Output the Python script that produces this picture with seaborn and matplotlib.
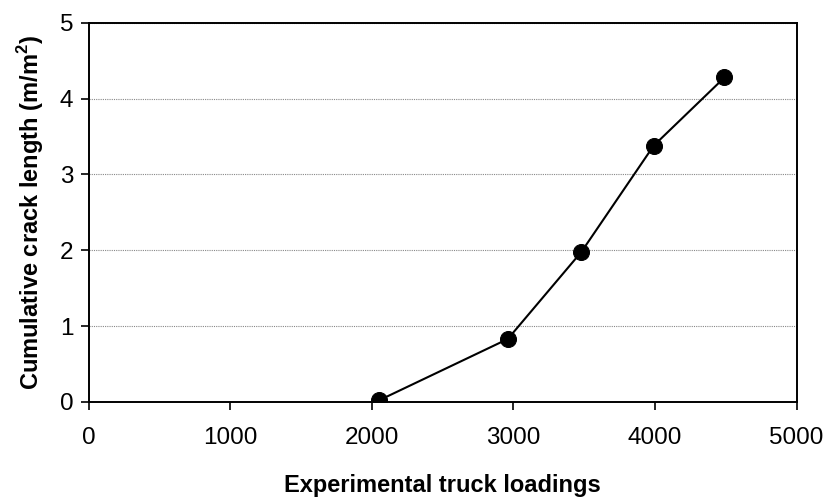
import pandas as pd
import matplotlib
matplotlib.use('Agg')
import matplotlib.pyplot as plt
import seaborn as sns

# Data
truck_loadings = [2050, 2960, 3480, 3990, 4490]
crack_length = [0.02, 0.83, 1.98, 3.38, 4.28]


def plot_crack_growth():
    df = pd.DataFrame({'loadings': truck_loadings, 'crack': crack_length})

    sns.set_style('white')
    plt.rcParams['font.family'] = ['Liberation Sans', 'DejaVu Sans']
    plt.rcParams['text.color'] = 'black'
    plt.rcParams['axes.labelcolor'] = 'black'

    fig = plt.figure(figsize=(8.29, 4.98), dpi=100)
    ax = fig.add_axes([0.107, 0.193, 0.854, 0.761])

    sns.lineplot(x='loadings', y='crack', data=df, ax=ax, color='black',
                 linewidth=1.5, marker='o', markersize=11.5,
                 markeredgecolor='black', markerfacecolor='black')

    ax.set_xlim(0, 5000)
    ax.set_ylim(0, 5)
    ax.set_xticks(range(0, 5001, 1000))
    ax.set_yticks(range(0, 6))
    ax.yaxis.grid(True, linestyle=(0, (1, 1)), color='#888888', linewidth=0.8)
    ax.set_axisbelow(True)

    for side in ['left', 'right', 'top', 'bottom']:
        ax.spines[side].set_visible(True)
        ax.spines[side].set_color('black')
        ax.spines[side].set_linewidth(1.4)

    ax.tick_params(axis='both', direction='out', length=6, width=1.2,
                   color='black', labelsize=17.5, labelcolor='black')
    ax.tick_params(axis='x', pad=12, bottom=True)
    ax.tick_params(axis='y', pad=5, left=True)

    ax.set_xlabel('Experimental truck loadings', fontsize=17, fontweight='bold',
                  labelpad=18, color='black')
    ax.set_ylabel('Cumulative crack length (m/m$^\\mathregular{2}$)', fontsize=17,
                  fontweight='bold', labelpad=10, color='black')

    fig.savefig('out.png', dpi=100)


if __name__ == '__main__':
    plot_crack_growth()
